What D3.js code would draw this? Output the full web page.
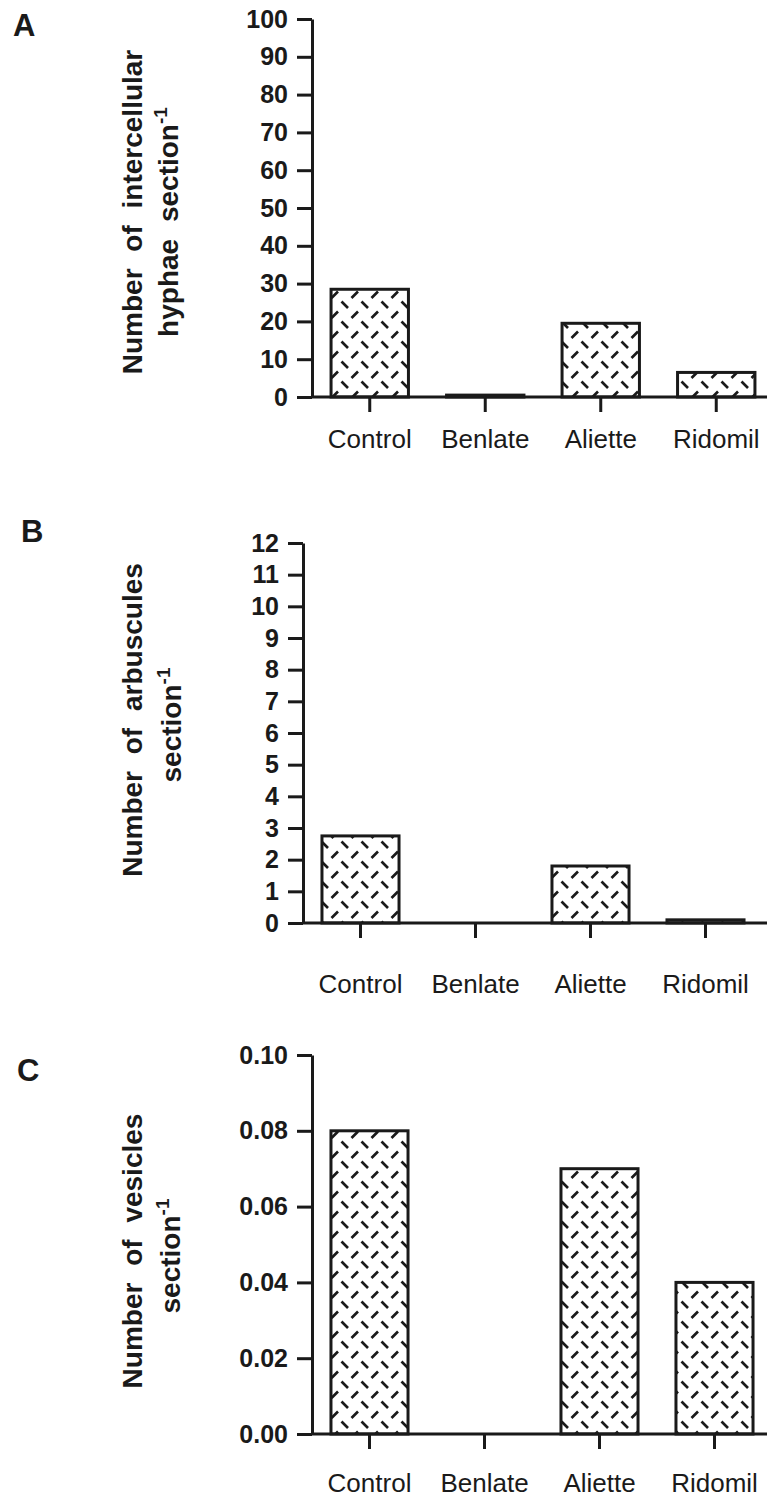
<!DOCTYPE html>
<html>
<head>
<meta charset="utf-8">
<script src="https://cdn.jsdelivr.net/npm/d3@7"></script>
<style>
  body { margin: 0; background: #fff; }
  svg { display: block; font-family: "Liberation Sans", Arial, Helvetica, sans-serif; }
</style>
</head>
<body>
<div id="chart"></div>
<script>
var categories = ["Control", "Benlate", "Aliette", "Ridomil"];

var hyphaeValues = [28.5, 0.5, 19.5, 6.5];
var arbusculeValues = [2.75, 0, 1.8, 0.1];
var vesicleValues = [0.08, 0, 0.07, 0.04];

var hyphaeTicks = [0, 10, 20, 30, 40, 50, 60, 70, 80, 90, 100];
var arbusculeTicks = [0, 1, 2, 3, 4, 5, 6, 7, 8, 9, 10, 11, 12];
var vesicleTicks = [0, 0.02, 0.04, 0.06, 0.08, 0.10];

var ink = "#1a1a1a";

var svg = d3.select("#chart").append("svg")
    .attr("width", 767)
    .attr("height", 1500);

/* dashed hatch used in every bar */
var pat = svg.append("defs").append("pattern")
    .attr("id", "dashes")
    .attr("patternUnits", "userSpaceOnUse")
    .attr("width", 20)
    .attr("height", 20);
pat.append("rect").attr("width", 20).attr("height", 20).attr("fill", "#fff");
pat.append("line").attr("x1", 1.5).attr("y1", 1.5).attr("x2", 8).attr("y2", 8)
    .attr("stroke", ink).attr("stroke-width", 2.6);
pat.append("line").attr("x1", 11.5).attr("y1", 18).attr("x2", 18).attr("y2", 11.5)
    .attr("stroke", ink).attr("stroke-width", 2.6);

var drawPanel = function(p) {
    var g = svg.append("g");

    var x = d3.scaleBand()
        .domain(categories)
        .range(p.xRange)
        .paddingInner(0.33)
        .paddingOuter(0.165);

    var y = d3.scaleLinear()
        .domain([0, p.ticks[p.ticks.length - 1]])
        .range(p.yRange);

    /* bars */
    g.append("g").selectAll("rect")
        .data(p.values)
        .enter().append("rect")
            .attr("x", function(d, i) { return x(categories[i]); })
            .attr("y", function(d) { return y(d); })
            .attr("width", x.bandwidth())
            .attr("height", function(d) { return y(0) - y(d); })
            .attr("fill", "url(#dashes)")
            .attr("stroke", ink)
            .attr("stroke-width", 3);

    /* y axis */
    var yAxis = d3.axisLeft(y)
        .tickValues(p.ticks)
        .tickFormat(p.format)
        .tickSize(15)
        .tickSizeOuter(0)
        .tickPadding(9);

    var ya = g.append("g")
        .attr("transform", "translate(" + p.xRange[0] + ",0)")
        .call(yAxis);
    ya.selectAll("text")
        .attr("font-size", 25)
        .attr("font-weight", "bold")
        .attr("fill", ink)
        .attr("font-family", "Liberation Sans, Arial, sans-serif");

    /* x axis */
    var xAxis = d3.axisBottom(x)
        .tickSize(15)
        .tickSizeOuter(0)
        .tickPadding(p.labelPad);

    var xa = g.append("g")
        .attr("transform", "translate(0," + y(0) + ")")
        .call(xAxis);
    xa.select(".domain").attr("d", "M" + p.xRange[0] + ",0H767");
    xa.selectAll("text")
        .attr("font-size", 26)
        .attr("fill", ink)
        .attr("font-family", "Liberation Sans, Arial, sans-serif");

    g.selectAll(".domain, .tick line")
        .attr("stroke", ink)
        .attr("stroke-width", 3);

    /* panel letter */
    g.append("text")
        .attr("x", p.letterPos[0])
        .attr("y", p.letterPos[1])
        .attr("font-size", 31)
        .attr("font-weight", "bold")
        .attr("fill", ink)
        .text(p.letter);

    /* y title, two rotated lines */
    g.append("text")
        .attr("transform", "translate(142," + p.titleY[0] + ") rotate(-90)")
        .attr("text-anchor", "middle")
        .attr("font-size", 28)
        .attr("font-weight", "bold")
        .attr("word-spacing", 9)
        .attr("fill", ink)
        .text(p.title[0]);

    var t2 = g.append("text")
        .attr("transform", "translate(" + p.title2X + "," + p.titleY[1] + ") rotate(-90)")
        .attr("text-anchor", "middle")
        .attr("font-size", 28)
        .attr("font-weight", "bold")
        .attr("word-spacing", 9)
        .attr("fill", ink);
    t2.append("tspan").text(p.title[1]);
    t2.append("tspan")
        .attr("font-size", 19)
        .attr("dy", -11)
        .text("-1");
};

drawPanel({
    letter: "A",
    letterPos: [13, 36],
    title: ["Number of intercellular", "hyphae section"],
    titleY: [212, 222],
    title2X: 178,
    values: hyphaeValues,
    ticks: hyphaeTicks,
    format: d3.format("d"),
    xRange: [312, 774],
    yRange: [397, 19],
    labelPad: 18
});

drawPanel({
    letter: "B",
    letterPos: [21, 542],
    title: ["Number of arbuscules", "section"],
    titleY: [720, 725],
    title2X: 181,
    values: arbusculeValues,
    ticks: arbusculeTicks,
    format: d3.format("d"),
    xRange: [303, 763],
    yRange: [923, 543],
    labelPad: 37
});

drawPanel({
    letter: "C",
    letterPos: [17, 1081],
    title: ["Number of vesicles", "section"],
    titleY: [1251, 1256],
    title2X: 180,
    values: vesicleValues,
    ticks: vesicleTicks,
    format: d3.format(".2f"),
    xRange: [312, 772],
    yRange: [1434, 1055],
    labelPad: 25
});
</script>
</body>
</html>
